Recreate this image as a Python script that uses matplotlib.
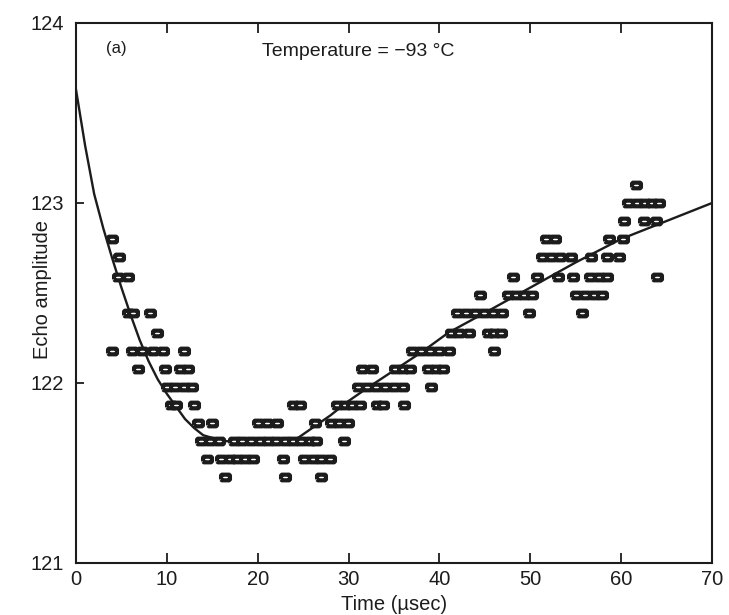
import matplotlib
matplotlib.use("Agg")
import matplotlib.pyplot as plt
from matplotlib.markers import MarkerStyle

# ---- data ----
# each row: (echo amplitude level, list of times in microseconds)
level_123_1 = 123.10; t_123_1 = [61.6]
level_123_0 = 123.00; t_123_0 = [60.8, 61.7, 62.6, 63.4, 64.2]
level_122_9 = 122.90; t_122_9 = [60.3, 62.5, 63.8]
level_122_8 = 122.80; t_122_8 = [4.0, 51.7, 52.7, 58.7, 60.2]
level_122_7 = 122.70; t_122_7 = [4.7, 51.3, 52.3, 53.3, 54.5, 56.7, 58.4, 59.8]
level_122_6 = 122.59; t_122_6 = [4.6, 5.7, 48.1, 50.7, 53.0, 54.7, 56.6, 57.6, 58.4, 63.9]
level_122_5 = 122.49; t_122_5 = [44.5, 47.5, 48.4, 49.3, 50.2, 55.0, 56.0, 57.0, 57.9]
level_122_4 = 122.39; t_122_4 = [5.7, 6.3, 8.1, 41.9, 42.9, 43.9, 44.9, 45.9, 46.9, 49.9, 55.7]
level_122_3 = 122.28; t_122_3 = [8.9, 41.3, 42.2, 43.2, 45.3, 46.0, 46.8]
level_122_2 = 122.18; t_122_2 = [4.0, 6.2, 7.3, 8.5, 9.6, 11.9, 37.0, 38.0, 39.0, 40.0, 41.0, 46.0]
level_122_1 = 122.08; t_122_1 = [6.8, 9.8, 11.5, 12.3, 31.5, 32.6, 35.1, 36.0, 36.8, 38.7, 39.6, 40.4]
level_122_0 = 121.98; t_122_0 = [10.0, 10.9, 11.9, 12.8, 31.0, 32.0, 33.0, 34.0, 35.0, 36.0, 39.1]
level_121_9 = 121.88; t_121_9 = [10.5, 11.0, 13.0, 23.9, 24.7, 28.7, 29.6, 30.4, 31.3, 33.1, 33.8, 36.1]
level_121_8 = 121.78; t_121_8 = [13.4, 15.0, 20.0, 21.0, 22.1, 26.3, 28.1, 29.0, 29.9]
level_121_7 = 121.68; t_121_7 = [13.8, 14.7, 15.7, 17.4, 18.3, 19.3, 20.2, 21.1, 22.0, 23.0,
                                 23.9, 24.8, 25.7, 26.4, 29.5]
level_121_6 = 121.58; t_121_6 = [14.4, 16.0, 16.9, 17.7, 18.6, 19.5, 22.8, 25.1, 26.1, 27.0, 28.0]
level_121_5 = 121.48; t_121_5 = [16.4, 23.0, 27.0]

rows = [
    (level_123_1, t_123_1), (level_123_0, t_123_0), (level_122_9, t_122_9),
    (level_122_8, t_122_8), (level_122_7, t_122_7), (level_122_6, t_122_6),
    (level_122_5, t_122_5), (level_122_4, t_122_4), (level_122_3, t_122_3),
    (level_122_2, t_122_2), (level_122_1, t_122_1), (level_122_0, t_122_0),
    (level_121_9, t_121_9), (level_121_8, t_121_8), (level_121_7, t_121_7),
    (level_121_6, t_121_6), (level_121_5, t_121_5),
]

# fitted curve
curve_t = [0, 1, 2, 3, 4, 5, 6, 7, 8, 9, 10, 11, 12, 13, 14, 16, 18, 20, 22, 24,
           26, 28, 30, 32, 35, 38, 41, 45, 50, 55, 60, 65, 70]
curve_v = [123.63, 123.32, 123.05, 122.86, 122.69, 122.53, 122.38, 122.24, 122.12,
           122.02, 121.94, 121.87, 121.80, 121.75, 121.71, 121.68, 121.67, 121.67,
           121.67, 121.68, 121.75, 121.82, 121.90, 121.97, 122.07, 122.17, 122.28,
           122.39, 122.53, 122.67, 122.80, 122.90, 123.00]

x_ticks = [0, 10, 20, 30, 40, 50, 60, 70]
y_ticks = [121, 122, 123, 124]

# ---- figure ----
plt.rcParams['font.family'] = ['Liberation Sans', 'DejaVu Sans']
ink = '#1c1c1c'

fig = plt.figure(figsize=(7.29, 6.15), dpi=100)
ax = fig.add_axes([76/729, 1 - 563/615, (712 - 76)/729, (563 - 23)/615])

ax.plot(curve_t, curve_v, color=ink, lw=1.7, zorder=2)

rr = [(-0.60, -0.26), (-0.48, -0.38), (0.48, -0.38), (0.60, -0.26),
      (0.60, 0.26), (0.48, 0.38), (-0.48, 0.38), (-0.60, 0.26), (-0.60, -0.26)]
mk = MarkerStyle(rr)
for lvl, ts in rows:
    ax.plot(ts, [lvl] * len(ts), linestyle='none', marker=mk, markersize=6.4,
            markerfacecolor='white', markeredgecolor=ink, markeredgewidth=3.0,
            zorder=3)

ax.set_xlim(0, 70)
ax.set_ylim(121, 124)
ax.set_xticks(x_ticks)
ax.set_yticks(y_ticks)
ax.tick_params(axis='x', direction='in', length=7, width=1.3, top=True,
               labelsize=14.5, pad=5, colors=ink)
ax.tick_params(axis='y', direction='in', length=6, width=1.3, right=False,
               labelsize=14.5, pad=9, colors=ink)
for s in ax.spines.values():
    s.set_linewidth(1.5)
    s.set_color(ink)

ax.set_xlabel('Time (\u00b5sec)', fontsize=14.5, color=ink, labelpad=4)
ax.set_ylabel('Echo amplitude', fontsize=14.5, color=ink)
ax.yaxis.set_label_coords(-0.038, 0.506)

ax.text(3.3, 123.86, '(a)', fontsize=12, color=ink, ha='left', va='center')
ax.text(20.5, 123.84, 'Temperature = \u221293 \u00b0C', fontsize=14, color=ink,
        ha='left', va='center')

fig.savefig('out.png', dpi=100)
